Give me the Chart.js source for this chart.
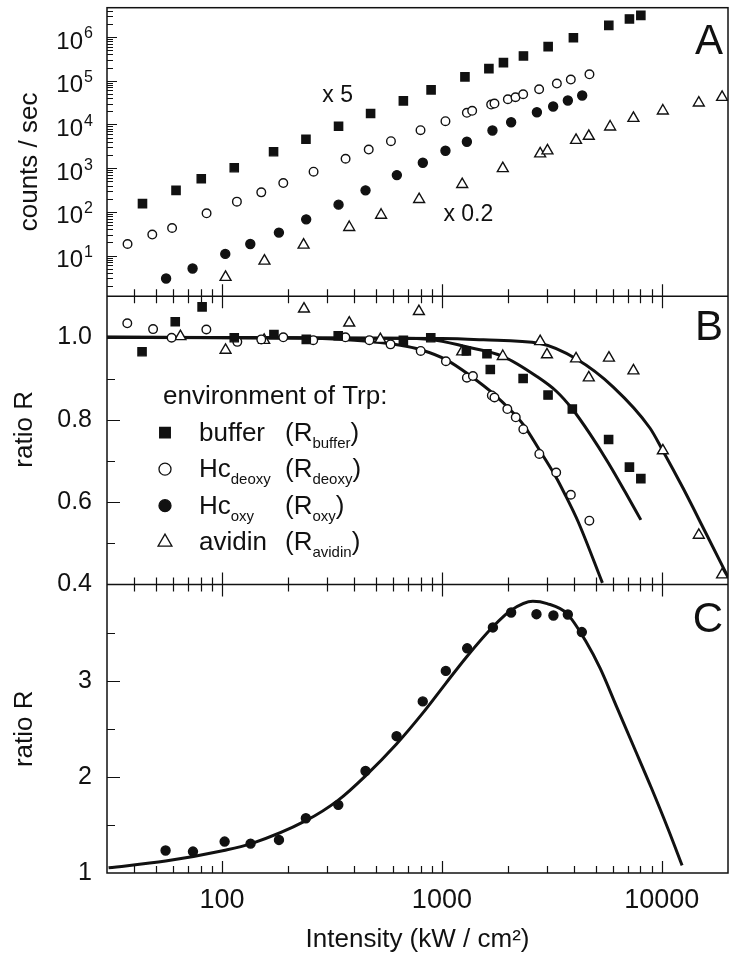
<!DOCTYPE html>
<html>
<head>
<meta charset="utf-8">
<title>Trp emission vs excitation intensity</title>
<script src="https://cdn.jsdelivr.net/npm/chart.js@4.4.1/dist/chart.umd.min.js"></script>
<style>
  html, body { margin: 0; padding: 0; background: #fff; }
  #wrap { width: 736px; height: 955px; }
</style>
</head>
<body>
<div id="wrap"><canvas id="chart" width="736" height="955"></canvas></div>
<script>
const FONT = "'Liberation Sans', Arimo, Arial, sans-serif";
const INK = '#111111';

// ---- panel A: count rates (counts / sec) ----
const bufferIntensityA = [43.5, 61.8, 80.5, 113.7, 171.6, 240.9, 338.9, 474, 668, 893, 1273, 1636, 1905, 2349, 3042, 3963, 5741, 7126, 8030];
const bufferCountsA = [154, 310, 573, 1021, 2368, 4590, 9100, 17740, 34600, 61660, 122200, 188800, 259000, 368000, 601000, 963000, 1840000, 2580000, 3110000];
const deoxyIntensityA = [37.2, 48.2, 59.3, 85.1, 116.9, 150.9, 190, 260.9, 364.8, 464.8, 586.6, 799.5, 1038, 1299, 1373, 1675, 1734, 1995, 2161, 2342, 2768, 3333, 3857, 4688];
const deoxyCountsA = [18.4, 30.2, 42.7, 92.4, 171, 279, 455, 828, 1640, 2660, 4130, 7380, 11830, 18400, 20460, 28460, 30000, 37600, 41800, 48900, 63600, 85900, 106000, 140000];
const oxyIntensityA = [55.7, 73.5, 103.5, 134.5, 181.5, 241.5, 338.9, 449.5, 624, 819, 1038, 1299, 1698, 2065, 2704, 3206, 3739, 4345];
const oxyCountsA = [2.98, 5.05, 10.9, 18.4, 33.5, 67.4, 146, 310, 692, 1328, 2496, 4005, 7260, 11220, 19010, 25650, 35150, 45710];
const avidinIntensityA = [103.8, 156, 235, 379, 529, 788, 1237, 1892, 2798, 3020, 4074, 4656, 5821, 7430, 10110, 14730, 18800];
const avidinCountsA = [3.2, 7.5, 17.5, 44.3, 84.5, 193, 425, 984, 2133, 2497, 4355, 5380, 8810, 13870, 20470, 31120, 41800];

// ---- panel B: ratio R per environment ----
const bufferIntensityB = [43.3, 61.3, 81.2, 113.7, 172.3, 241.7, 337.7, 668, 890, 1292, 1603, 1660, 2341, 3039, 3919, 5730, 7126, 8030];
const bufferRatioB = [0.965, 1.038, 1.074, 0.999, 1.007, 0.995, 1.004, 0.993, 0.999, 0.967, 0.960, 0.922, 0.900, 0.860, 0.826, 0.752, 0.685, 0.657];
const deoxyIntensityB = [37.1, 48.6, 59.0, 84.9, 117.4, 150.9, 190, 260, 364, 468, 584, 801, 1043, 1299, 1384, 1687, 1734, 1984, 2167, 2346, 2774, 3309, 3858, 4683];
const deoxyRatioB = [1.034, 1.020, 0.999, 1.019, 0.989, 0.995, 1.000, 0.993, 1.000, 0.993, 0.983, 0.967, 0.942, 0.902, 0.906, 0.859, 0.854, 0.826, 0.806, 0.777, 0.717, 0.672, 0.618, 0.555];
const avidinIntensityB = [64.7, 103.8, 155.5, 236, 379, 525, 786, 1237, 1892, 2798, 3005, 4074, 4656, 5750, 7430, 10110, 14730, 18800];
const avidinRatioB = [1.002, 0.969, 0.993, 1.069, 1.035, 0.995, 1.063, 0.965, 0.954, 0.990, 0.958, 0.948, 0.902, 0.950, 0.919, 0.725, 0.520, 0.424];

// fitted curves in B
const deoxyFitX = [30, 200, 400, 647, 801, 1043, 1346, 1717, 2081, 2346, 2774, 3309, 3651, 4160, 5370];
const deoxyFitY = [1.0, 0.999, 0.993, 0.981, 0.970, 0.946, 0.907, 0.863, 0.820, 0.788, 0.727, 0.660, 0.616, 0.553, 0.404];
const bufferFitX = [30, 600, 890, 1292, 1892, 2704, 3333, 3919, 4721, 5716, 6808, 8030];
const bufferFitY = [1.0, 0.998, 0.995, 0.977, 0.954, 0.905, 0.868, 0.826, 0.765, 0.695, 0.625, 0.557];
const avidinFitX = [30, 1000, 1547, 2798, 4074, 6000, 8830, 10110, 12520, 15790, 20000];
const avidinFitY = [1.0, 0.997, 0.994, 0.985, 0.948, 0.880, 0.780, 0.725, 0.633, 0.527, 0.418];

// ---- panel C: ratio R (oxy) ----
const oxyIntensityC = [55.4, 73.8, 102.8, 134.9, 181.6, 240.7, 338, 449.5, 622.2, 818.4, 1042, 1303, 1706, 2065, 2692, 3215, 3738, 4329];
const oxyRatioC = [1.234, 1.223, 1.327, 1.306, 1.344, 1.569, 1.709, 2.061, 2.423, 2.785, 3.102, 3.337, 3.554, 3.709, 3.692, 3.678, 3.689, 3.506];
const oxyFitX = [30.5, 55.4, 102, 135, 240.7, 338, 449.5, 622, 818, 1042, 1303, 1706, 2065, 2591, 3010, 3700, 4527, 5240, 6263, 7490, 8950, 10680, 12370];
const oxyFitY = [1.055, 1.124, 1.234, 1.303, 1.544, 1.758, 2.011, 2.342, 2.663, 2.973, 3.255, 3.561, 3.733, 3.826, 3.802, 3.699, 3.405, 3.130, 2.717, 2.303, 1.889, 1.458, 1.079];

// ---- axes ----
const intensityRange = [30, 20000];
const intensityLabels = [100, 1000, 10000];
const countsRange = [1.18, 4.67e6];
const countsDecades = [1, 2, 3, 4, 5, 6];
const ratioBRange = [0.4, 1.1];
const ratioBLabels = [0.4, 0.6, 0.8, 1.0];
const ratioCRange = [1, 4];
const ratioCLabels = [1, 2, 3];

const pts = (xs, ys) => xs.map((x, i) => ({ x, y: ys[i] }));
const near = (a, b) => Math.abs(a - b) < 1e-6 * Math.max(1, Math.abs(b));

const markers = {
  buffer: { pointStyle: 'rect', radius: 5.8, fill: INK },
  deoxy: { pointStyle: 'circle', radius: 4.3, fill: '#ffffff' },
  oxy: { pointStyle: 'circle', radius: 4.5, fill: INK },
  avidin: { pointStyle: 'triangle', radius: 6.3, fill: '#ffffff' }
};

function pointSet(label, data, yAxisID, m) {
  return {
    label, data, yAxisID, order: 1, showLine: false,
    pointStyle: m.pointStyle, pointRadius: m.radius, pointHoverRadius: m.radius,
    pointBackgroundColor: m.fill, pointBorderColor: INK, pointBorderWidth: 1.4
  };
}

function fitLine(label, data, yAxisID) {
  return {
    label, data, yAxisID, order: 2, showLine: true, fill: false,
    borderColor: INK, borderWidth: 3, pointRadius: 0, pointHoverRadius: 0,
    cubicInterpolationMode: 'monotone'
  };
}

// fixed box sizes so the three panels line up with the original figure
function fixBox(size) {
  return s => {
    if (s.isHorizontal()) s.height = size; else s.width = size;
    s.paddingTop = s.paddingBottom = s.paddingLeft = s.paddingRight = 0;
  };
}

// draws frame, inward ticks, log labels, axis titles, legend and annotations
const panelDecor = {
  id: 'panelDecor',
  afterDraw(chart) {
    const { ctx, chartArea: area, scales } = chart;
    const { x, yA, yB, yC } = scales;
    const L = area.left;
    ctx.save();
    ctx.strokeStyle = INK;
    ctx.fillStyle = INK;

    // frame and panel separators
    ctx.lineWidth = 1.5;
    ctx.strokeRect(area.left, area.top, area.right - area.left, area.bottom - area.top);
    ctx.beginPath();
    [yA.bottom, yB.bottom].forEach(y => { ctx.moveTo(area.left, y); ctx.lineTo(area.right, y); });
    ctx.stroke();

    // x ticks on every panel boundary, pointing into the panels
    ctx.lineWidth = 1.2;
    ctx.beginPath();
    const xTicks = [];
    for (let e = 1; e <= 4; e++) {
      for (let k = 1; k <= 9; k++) {
        const v = k * Math.pow(10, e);
        if (v > intensityRange[0] && v < intensityRange[1]) xTicks.push({ v, major: k === 1 });
      }
    }
    [[yA.bottom, -1], [yB.top, 1], [yB.bottom, -1], [yC.top, 1], [yC.bottom, -1]].forEach(([y, dir]) => {
      xTicks.forEach(t => {
        const px = Math.round(x.getPixelForValue(t.v)) + 0.5;
        ctx.moveTo(px, y);
        ctx.lineTo(px, y + dir * (t.major ? 12 : 7));
      });
    });

    // y ticks, log panel
    for (let e = 0; e <= 6; e++) {
      for (let k = 1; k <= 9; k++) {
        const v = k * Math.pow(10, e);
        if (v <= countsRange[0] || v >= countsRange[1]) continue;
        const py = Math.round(yA.getPixelForValue(v)) + 0.5;
        ctx.moveTo(L, py);
        ctx.lineTo(L + (k === 1 ? 10 : 6), py);
      }
    }
    // y ticks, linear panels
    [[yB, ratioBRange, 0.1, ratioBLabels], [yC, ratioCRange, 0.5, ratioCLabels]].forEach(([s, r, step, labels]) => {
      for (let i = 1; r[0] + i * step < r[1] - 1e-9; i++) {
        const v = r[0] + i * step;
        const py = Math.round(s.getPixelForValue(v)) + 0.5;
        const major = labels.some(l => near(l, v));
        ctx.moveTo(L, py);
        ctx.lineTo(L + (major ? 13 : 8), py);
      }
    });
    ctx.stroke();

    // log tick labels 10^n (base sits a little below the tick, exponent raised)
    countsDecades.forEach(n => {
      const py = yA.getPixelForValue(Math.pow(10, n)) + 5;
      ctx.font = `24px ${FONT}`;
      ctx.textAlign = 'right';
      ctx.textBaseline = 'middle';
      ctx.fillText('10', L - 24, py);
      ctx.font = `16px ${FONT}`;
      ctx.textAlign = 'left';
      ctx.fillText(String(n), L - 23, py - 8);
    });

    // y axis titles
    const vTitle = (text, bx, cy) => {
      ctx.save();
      ctx.translate(bx, cy);
      ctx.rotate(-Math.PI / 2);
      ctx.font = `26px ${FONT}`;
      ctx.textAlign = 'center';
      ctx.textBaseline = 'alphabetic';
      ctx.fillText(text, 0, 0);
      ctx.restore();
    };
    vTitle('counts / sec', 37, (yA.top + yA.bottom) / 2 + 10);
    vTitle('ratio R', 32, (yB.top + yB.bottom) / 2 - 11);
    vTitle('ratio R', 32, (yC.top + yC.bottom) / 2);

    // panel letters
    ctx.font = `42px ${FONT}`;
    ctx.textAlign = 'right';
    ctx.textBaseline = 'alphabetic';
    ctx.fillText('A', area.right - 5, yA.top + 46);
    ctx.fillText('B', area.right - 5, yB.top + 43.5);
    ctx.fillText('C', area.right - 5, yC.top + 47.5);

    // scale factor notes in A
    ctx.font = `23px ${FONT}`;
    ctx.textAlign = 'left';
    ctx.fillText('x 5', x.getPixelForValue(286), yA.getPixelForValue(3.2e4));
    ctx.fillText('x 0.2', x.getPixelForValue(1016), yA.getPixelForValue(61));

    // legend in B
    const rich = (parts, px, py) => {
      let cx = px;
      parts.forEach(p => {
        const sub = p.startsWith('_');
        const t = sub ? p.slice(1) : p;
        ctx.font = sub ? `15px ${FONT}` : `26px ${FONT}`;
        ctx.fillText(t, cx, sub ? py + 7 : py);
        cx += ctx.measureText(t).width;
      });
    };
    ctx.textAlign = 'left';
    ctx.textBaseline = 'alphabetic';
    ctx.font = `26px ${FONT}`;
    ctx.fillText('environment of Trp:', L + 56, yB.top + 108);
    const rows = [
      { m: 'buffer', r: 7.5, name: ['buffer'], ratio: ['(R', '_buffer', ')'] },
      { m: 'deoxy', r: 6, name: ['Hc', '_deoxy'], ratio: ['(R', '_deoxy', ')'] },
      { m: 'oxy', r: 6, name: ['Hc', '_oxy'], ratio: ['(R', '_oxy', ')'] },
      { m: 'avidin', r: 8, name: ['avidin'], ratio: ['(R', '_avidin', ')'] }
    ];
    rows.forEach((row, i) => {
      const cy = yB.top + 136.5 + i * 36.5;
      const mk = markers[row.m];
      ctx.fillStyle = mk.fill;
      ctx.strokeStyle = INK;
      ctx.lineWidth = 1.3;
      Chart.helpers.drawPoint(ctx, { pointStyle: mk.pointStyle, radius: row.r, borderWidth: 1.3, rotation: 0 }, L + 58, cy);
      ctx.fillStyle = INK;
      rich(row.name, L + 92, cy + 8);
      rich(row.ratio, L + 178, cy + 8);
    });
    ctx.restore();
  }
};

Chart.defaults.font.family = FONT;
Chart.defaults.color = INK;

const hiddenGrid = { display: false, drawTicks: false };

new Chart(document.getElementById('chart'), {
  type: 'scatter',
  data: {
    datasets: [
      pointSet('buffer', pts(bufferIntensityA, bufferCountsA), 'yA', markers.buffer),
      pointSet('Hc deoxy', pts(deoxyIntensityA, deoxyCountsA), 'yA', markers.deoxy),
      pointSet('Hc oxy', pts(oxyIntensityA, oxyCountsA), 'yA', markers.oxy),
      pointSet('avidin', pts(avidinIntensityA, avidinCountsA), 'yA', markers.avidin),
      pointSet('R buffer', pts(bufferIntensityB, bufferRatioB), 'yB', markers.buffer),
      pointSet('R deoxy', pts(deoxyIntensityB, deoxyRatioB), 'yB', markers.deoxy),
      pointSet('R avidin', pts(avidinIntensityB, avidinRatioB), 'yB', markers.avidin),
      fitLine('fit deoxy', pts(deoxyFitX, deoxyFitY), 'yB'),
      fitLine('fit buffer', pts(bufferFitX, bufferFitY), 'yB'),
      fitLine('fit avidin', pts(avidinFitX, avidinFitY), 'yB'),
      pointSet('R oxy', pts(oxyIntensityC, oxyRatioC), 'yC', markers.oxy),
      fitLine('fit oxy', pts(oxyFitX, oxyFitY), 'yC')
    ]
  },
  options: {
    responsive: false,
    animation: false,
    layout: { padding: { top: 4, right: 8, left: 0, bottom: 0 } },
    plugins: { legend: { display: false }, tooltip: { enabled: false } },
    scales: {
      x: {
        type: 'logarithmic',
        position: 'bottom',
        min: intensityRange[0],
        max: intensityRange[1],
        grid: hiddenGrid,
        border: { display: false },
        ticks: {
          autoSkip: false, maxRotation: 0, padding: 11,
          font: { size: 27 }, color: INK,
          callback: v => (intensityLabels.some(l => near(l, v)) ? String(Math.round(v)) : '')
        },
        title: {
          display: true, text: 'Intensity (kW / cm²)',
          font: { size: 26 }, color: INK, padding: { top: 0, bottom: 0 }
        },
        afterFit: fixBox(82)
      },
      yA: {
        type: 'logarithmic', position: 'left', stack: 'panels', stackWeight: 1, weight: 3,
        min: countsRange[0], max: countsRange[1],
        grid: hiddenGrid, border: { display: false },
        ticks: { display: false },
        afterFit: fixBox(107)
      },
      yB: {
        type: 'linear', position: 'left', stack: 'panels', stackWeight: 1, weight: 2,
        min: ratioBRange[0], max: ratioBRange[1],
        grid: hiddenGrid, border: { display: false },
        ticks: {
          stepSize: 0.1, padding: 15, font: { size: 25 }, color: INK,
          callback: v => (ratioBLabels.some(l => near(l, v)) ? v.toFixed(1) : '')
        },
        afterFit: fixBox(107)
      },
      yC: {
        type: 'linear', position: 'left', stack: 'panels', stackWeight: 1, weight: 1,
        min: ratioCRange[0], max: ratioCRange[1],
        grid: hiddenGrid, border: { display: false },
        ticks: {
          stepSize: 0.5, padding: 15, font: { size: 25 }, color: INK,
          callback: v => (ratioCLabels.some(l => near(l, v)) ? String(Math.round(v)) : '')
        },
        afterFit: fixBox(107)
      }
    }
  },
  plugins: [panelDecor]
});
</script>
</body>
</html>
